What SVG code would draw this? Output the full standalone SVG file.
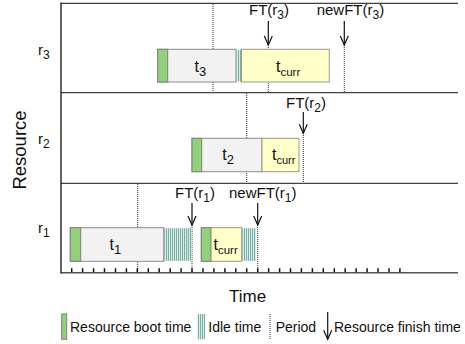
<svg xmlns="http://www.w3.org/2000/svg" width="465" height="344" viewBox="0 0 465 344">
  <style>
    text { font-family: "Liberation Sans", Arial, sans-serif; fill: #111; }
    .lbl { font-size: 15px; }
    .big { font-size: 16px; }
    .leg { font-size: 14px; }
    .boot { fill: #92d07a; stroke: #808080; stroke-width: 1; }
    .task { fill: #f2f2f2; stroke: #8c8c8c; stroke-width: 1; }
    .curr { fill: #ffffc8; stroke: #9a9a8a; stroke-width: 1; }
    .idle { fill: url(#hatch); stroke: none; }
    .dot { stroke: #333; stroke-width: 1; stroke-dasharray: 1 1; fill: none; }
    .arr { stroke: #111; stroke-width: 1.2; fill: none; marker-end: url(#head); }
  </style>
  <defs>
    <pattern id="hatch" patternUnits="userSpaceOnUse" width="2" height="4">
      <rect x="0" y="0" width="2" height="4" fill="#d9ebe6"/>
      <rect x="0" y="0" width="1" height="4" fill="#78b2a4"/>
    </pattern>
    <marker id="head" markerUnits="userSpaceOnUse" orient="auto" overflow="visible" markerWidth="10" markerHeight="10" refX="0" refY="0">
      <path d="M-9,-4 L0,0 L-9,4" fill="none" stroke="#111" stroke-width="1.2"/>
    </marker>
  </defs>

  <rect width="465" height="344" fill="#fff"/>

  <!-- period and finish-time guide lines, drawn under the task bars -->
  <g id="connectors">
    <line class="dot" x1="213" y1="4" x2="213" y2="92"/>
    <line class="dot" x1="246.7" y1="93" x2="246.7" y2="183"/>
    <line class="dot" x1="137.7" y1="184" x2="137.7" y2="272"/>
    <line class="dot" x1="268.3" y1="45" x2="268.3" y2="92"/>
    <line class="dot" x1="344.3" y1="45" x2="344.3" y2="92"/>
    <line class="dot" x1="303.3" y1="133" x2="303.3" y2="183"/>
    <line class="dot" x1="192" y1="225" x2="192" y2="272"/>
    <line class="dot" x1="257.7" y1="225" x2="257.7" y2="272"/>
    <line class="arr" x1="268.3" y1="21" x2="268.3" y2="45"/>
    <line class="arr" x1="344.3" y1="21" x2="344.3" y2="45"/>
    <line class="arr" x1="303.3" y1="112" x2="303.3" y2="133.3"/>
    <line class="arr" x1="192" y1="203" x2="192" y2="225"/>
    <line class="arr" x1="257.7" y1="203" x2="257.7" y2="225"/>
  </g>

  <!-- axes and row dividers -->
  <g id="frame">
    <line x1="61" y1="3.3" x2="458" y2="3.3" stroke="#111" stroke-width="1"/>
    <line x1="61" y1="92.7" x2="458" y2="92.7" stroke="#444" stroke-width="1.3"/>
    <line x1="61" y1="183.3" x2="458" y2="183.3" stroke="#444" stroke-width="1.3"/>
    <line x1="61" y1="272.7" x2="458" y2="272.7" stroke="#555" stroke-width="1.4"/>
    <line x1="61" y1="2.5" x2="61" y2="273.4" stroke="#111" stroke-width="1.3"/>
    <path stroke="#111" stroke-width="1.5" d="M71.7,268.3v4 M82.6,268.3v4 M93.6,268.3v4 M104.5,268.3v4 M115.5,268.3v4 M126.4,268.3v4 M137.3,268.3v4 M148.3,268.3v4 M159.2,268.3v4 M170.2,268.3v4 M181.1,268.3v4 M192,268.3v4 M203,268.3v4 M213.9,268.3v4 M224.9,268.3v4 M235.8,268.3v4 M246.7,268.3v4 M257.7,268.3v4 M268.6,268.3v4 M279.6,268.3v4 M290.5,268.3v4 M301.4,268.3v4 M312.4,268.3v4 M323.3,268.3v4 M334.3,268.3v4 M345.2,268.3v4 M356.1,268.3v4 M367.1,268.3v4 M378,268.3v4 M389,268.3v4 M399.9,268.3v4"/>
    <text x="25.5" y="150" font-size="18.5" text-anchor="middle" transform="rotate(-90 25.5 150)">Resource</text>
    <text x="229" y="302" font-size="17">Time</text>
  </g>

  <!-- resource r3 -->
  <g id="r3">
    <text class="lbl" x="38" y="54.5">r<tspan font-size="12" dy="4">3</tspan></text>
    <rect class="task" x="157.7" y="49.3" width="78.3" height="32.7"/>
    <rect class="boot" x="157.7" y="49.3" width="10" height="32.7"/>
    <rect class="idle" x="236.5" y="49.8" width="4.8" height="31.7"/>
    <rect class="curr" x="241.5" y="49.3" width="87.8" height="32.7"/>
    <text class="big" x="194.5" y="71.5">t<tspan font-size="13" dy="4">3</tspan></text>
    <text class="big" x="276" y="71.5">t<tspan font-size="11.5" dy="4">curr</tspan></text>
  </g>

  <!-- resource r2 -->
  <g id="r2">
    <text class="lbl" x="38" y="144">r<tspan font-size="12" dy="4">2</tspan></text>
    <rect class="task" x="192" y="138.3" width="70" height="33.4"/>
    <rect class="boot" x="192" y="138.3" width="9.7" height="33.4"/>
    <rect class="curr" x="262" y="138.3" width="37" height="33.4"/>
    <text class="big" x="222.3" y="160">t<tspan font-size="13" dy="4">2</tspan></text>
    <text class="big" x="272" y="160">t<tspan font-size="11" dy="4">curr</tspan></text>
  </g>

  <!-- resource r1 -->
  <g id="r1">
    <text class="lbl" x="38" y="233">r<tspan font-size="12" dy="4">1</tspan></text>
    <rect class="task" x="70.3" y="227.7" width="93.4" height="33.6"/>
    <rect class="boot" x="70.3" y="227.7" width="10.4" height="33.6"/>
    <rect class="idle" x="164.2" y="228.2" width="27.3" height="32.6"/>
    <rect class="curr" x="201.3" y="227.7" width="40.4" height="33.6"/>
    <rect class="boot" x="201.3" y="227.7" width="9.7" height="33.6"/>
    <rect class="idle" x="242.2" y="228.2" width="13.8" height="32.6"/>
    <text class="big" x="109.5" y="250">t<tspan font-size="13" dy="4">1</tspan></text>
    <text class="big" x="213.5" y="250">t<tspan font-size="11.5" dy="4">curr</tspan></text>
  </g>

  <!-- finish-time labels -->
  <g id="finish-labels">
    <text class="lbl" x="249" y="14.7">FT(r<tspan font-size="12" dy="4">3</tspan><tspan dy="-4">)</tspan></text>
    <text class="lbl" x="316.7" y="14.7">newFT(r<tspan font-size="12" dy="4">3</tspan><tspan dy="-4">)</tspan></text>
    <text class="lbl" x="286" y="108">FT(r<tspan font-size="12" dy="4">2</tspan><tspan dy="-4">)</tspan></text>
    <text class="lbl" x="175" y="198">FT(r<tspan font-size="12" dy="4">1</tspan><tspan dy="-4">)</tspan></text>
    <text class="lbl" x="229" y="198">newFT(r<tspan font-size="12" dy="4">1</tspan><tspan dy="-4">)</tspan></text>
  </g>

  <!-- legend -->
  <g id="legend">
    <rect class="boot" x="61.7" y="314" width="5" height="25.3"/>
    <text class="leg" x="70" y="332">Resource boot time</text>
    <rect class="idle" x="197.3" y="314" width="7.7" height="25.3" stroke="#9aa" stroke-width="0.8"/>
    <text class="leg" x="208.3" y="332">Idle time</text>
    <line class="dot" x1="270" y1="314" x2="270" y2="339.3"/>
    <text class="leg" x="275.7" y="332">Period</text>
    <line class="arr" x1="327.7" y1="312" x2="327.7" y2="339.3"/>
    <text class="leg" x="334" y="332">Resource finish time</text>
  </g>
</svg>
